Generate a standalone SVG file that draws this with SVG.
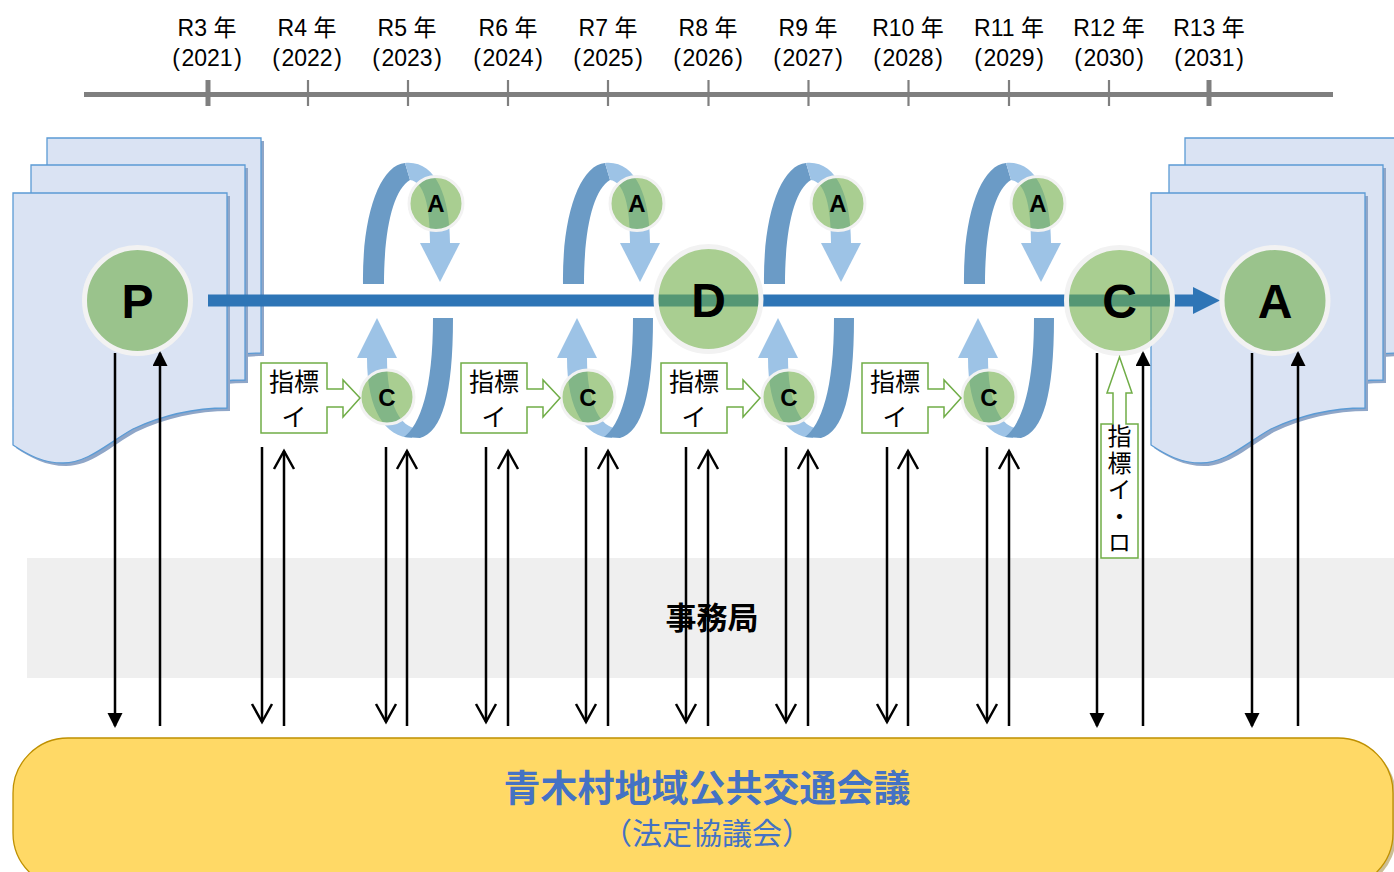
<svg xmlns="http://www.w3.org/2000/svg" xmlns:xlink="http://www.w3.org/1999/xlink" width="1394" height="872" viewBox="0 0 1394 872">
<style>
.jp{font-family:"Noto Sans CJK JP","Liberation Sans",sans-serif;}
.yr{font-family:"Liberation Sans","Noto Sans CJK JP",sans-serif;font-size:23px;fill:#000;text-anchor:middle;}
.tl{stroke:#7f7f7f;fill:none;}
.page{fill:#dae3f3;stroke:#5b9bd5;stroke-width:1.3;}
.pshadow{fill:#8fa6c8;}
.cir{fill:#70ad47;fill-opacity:0.6;stroke:#f2f2f2;}
.big{stroke-width:5;}
.sm{stroke-width:3;}
.lt{font-family:"Liberation Sans",Arial,sans-serif;font-weight:bold;fill:#000;text-anchor:middle;}
.dark{fill:#6b9bc6;}
.light{fill:#9dc3e6;}
.call{fill:#fff;stroke:#70ad47;stroke-width:1.5;}
.ct{font-size:25px;fill:#000;text-anchor:middle;}
.ar{stroke:#000;stroke-width:2.5;fill:none;}
</style>
<defs>
<path id="pagePath" d="M0,0 H214 V215 C180,215 150,222 120,236 C95,250 75,270 50,270 C30,270 15,262 0,252 Z"/>
<g id="pg">
<use xlink:href="#pagePath" href="#pagePath" class="pshadow" transform="translate(3,3)"/>
<use xlink:href="#pagePath" href="#pagePath" class="page"/>
</g>
<g id="stack">
<use xlink:href="#pg" href="#pg" x="34" y="-55"/>
<use xlink:href="#pg" href="#pg" x="18" y="-28"/>
<use xlink:href="#pg" href="#pg" x="0" y="0"/>
</g>
<g id="bands">
<path class="dark" d="M363,284 C362,215 380,165 405,163 L410,180 C393,190 384,230 384,284 Z"/>
<path class="light" d="M405,163 C435,160 450,195 450,243 L430,243 C430,205 424,182 410,180 Z"/>
<polygon class="light" points="420,243 460,243 440,282"/>
<path class="light" d="M367,358 L387,358 C387,400 398,424 414,428 L412,438 C385,437 367,410 367,358 Z"/>
<polygon class="light" points="357,358 397,358 377,318"/>
<path class="dark" d="M433,318 L453,318 C453,395 442,432 420,438 L404,437 C420,425 433,390 433,318 Z"/>
</g>
<path id="callout" d="M261,363 H327 V389 H343 V380 L360,398 L343,417 V407 H327 V433 H261 Z"/>
<marker id="mf" markerUnits="userSpaceOnUse" markerWidth="16" markerHeight="16" refX="13" refY="7.5" orient="auto" viewBox="0 0 16 16">
<path d="M0,0 L15,7.5 L0,15 Z" fill="#000"/>
</marker>
<marker id="mo" markerUnits="userSpaceOnUse" markerWidth="24" markerHeight="24" refX="18" refY="10" orient="auto" viewBox="-2 -2 24 24">
<path d="M0,0 L18,10 L0,20" fill="none" stroke="#000" stroke-width="2.5"/>
</marker>
</defs>

<rect width="1394" height="872" fill="#fff"/>

<g id="timeline">
<line class="tl" x1="84" y1="94.5" x2="1333" y2="94.5" stroke-width="5"/>
<line class="tl" x1="208" y1="80" x2="208" y2="106" stroke-width="5"/>
<line class="tl" x1="1209" y1="80" x2="1209" y2="106" stroke-width="5"/>
<g stroke-width="2.2" class="tl">
<line x1="308" y1="80" x2="308" y2="106"/>
<line x1="408" y1="80" x2="408" y2="106"/>
<line x1="508" y1="80" x2="508" y2="106"/>
<line x1="608" y1="80" x2="608" y2="106"/>
<line x1="708.5" y1="80" x2="708.5" y2="106"/>
<line x1="808.5" y1="80" x2="808.5" y2="106"/>
<line x1="908.5" y1="80" x2="908.5" y2="106"/>
<line x1="1009" y1="80" x2="1009" y2="106"/>
<line x1="1109" y1="80" x2="1109" y2="106"/>
</g>
<g class="yr">
<text x="207" y="36">R3 年</text><text y="66"><tspan x="176">(</tspan><tspan x="207">2021</tspan><tspan x="238">)</tspan></text>
<text x="307" y="36">R4 年</text><text y="66"><tspan x="276">(</tspan><tspan x="307">2022</tspan><tspan x="338">)</tspan></text>
<text x="407" y="36">R5 年</text><text y="66"><tspan x="376">(</tspan><tspan x="407">2023</tspan><tspan x="438">)</tspan></text>
<text x="508" y="36">R6 年</text><text y="66"><tspan x="477">(</tspan><tspan x="508">2024</tspan><tspan x="539">)</tspan></text>
<text x="608" y="36">R7 年</text><text y="66"><tspan x="577">(</tspan><tspan x="608">2025</tspan><tspan x="639">)</tspan></text>
<text x="708" y="36">R8 年</text><text y="66"><tspan x="677">(</tspan><tspan x="708">2026</tspan><tspan x="739">)</tspan></text>
<text x="808" y="36">R9 年</text><text y="66"><tspan x="777">(</tspan><tspan x="808">2027</tspan><tspan x="839">)</tspan></text>
<text x="908" y="36">R10 年</text><text y="66"><tspan x="877">(</tspan><tspan x="908">2028</tspan><tspan x="939">)</tspan></text>
<text x="1009" y="36">R11 年</text><text y="66"><tspan x="978">(</tspan><tspan x="1009">2029</tspan><tspan x="1040">)</tspan></text>
<text x="1109" y="36">R12 年</text><text y="66"><tspan x="1078">(</tspan><tspan x="1109">2030</tspan><tspan x="1140">)</tspan></text>
<text x="1209" y="36">R13 年</text><text y="66"><tspan x="1178">(</tspan><tspan x="1209">2031</tspan><tspan x="1240">)</tspan></text>
</g>
</g>

<g id="office-band">
<rect x="27" y="558" width="1367" height="120" fill="#efefef"/>
<text class="jp" x="712" y="629" font-size="31" font-weight="bold" text-anchor="middle" fill="#000">事務局</text>
</g>

<g id="council">
<rect x="16" y="741" width="1380" height="150" rx="55" fill="#bfae78" opacity="0.8"/>
<rect x="13" y="738" width="1380" height="150" rx="55" fill="#ffd966" stroke="#bf9000" stroke-width="1.3"/>
<text class="jp" x="707" y="802" font-size="37" font-weight="bold" text-anchor="middle" fill="#4472c4">青木村地域公共交通会議</text>
<text class="jp" x="707" y="844" font-size="30" text-anchor="middle" fill="#4472c4">（法定協議会）</text>
</g>

<g id="plan-docs"><use xlink:href="#stack" href="#stack" x="13" y="193"/></g>
<g id="act-docs"><use xlink:href="#stack" href="#stack" x="1151" y="193"/></g>

<g id="cycles">
<use xlink:href="#bands" href="#bands"/>
<use xlink:href="#bands" href="#bands" x="200"/>
<use xlink:href="#bands" href="#bands" x="401"/>
<use xlink:href="#bands" href="#bands" x="601"/>
</g>

<g id="connectors">
<line x1="208" y1="300.5" x2="1196" y2="300.5" stroke="#2e75b6" stroke-width="12"/>
<polygon points="1193,287 1220,300.5 1193,314" fill="#2e75b6"/>
<g class="ar">
<line x1="115" y1="353" x2="115" y2="726" marker-end="url(#mf)"/>
<line x1="160" y1="726" x2="160" y2="353" marker-end="url(#mf)"/>
<line x1="1097" y1="353" x2="1097" y2="726" marker-end="url(#mf)"/>
<line x1="1143" y1="726" x2="1143" y2="353" marker-end="url(#mf)"/>
<line x1="1252" y1="353" x2="1252" y2="726" marker-end="url(#mf)"/>
<line x1="1298" y1="726" x2="1298" y2="353" marker-end="url(#mf)"/>
<line x1="262" y1="447" x2="262" y2="722" marker-end="url(#mo)"/>
<line x1="284" y1="726" x2="284" y2="451" marker-end="url(#mo)"/>
<line x1="386" y1="447" x2="386" y2="722" marker-end="url(#mo)"/>
<line x1="407" y1="726" x2="407" y2="451" marker-end="url(#mo)"/>
<line x1="486" y1="447" x2="486" y2="722" marker-end="url(#mo)"/>
<line x1="508" y1="726" x2="508" y2="451" marker-end="url(#mo)"/>
<line x1="586" y1="447" x2="586" y2="722" marker-end="url(#mo)"/>
<line x1="608" y1="726" x2="608" y2="451" marker-end="url(#mo)"/>
<line x1="686" y1="447" x2="686" y2="722" marker-end="url(#mo)"/>
<line x1="708" y1="726" x2="708" y2="451" marker-end="url(#mo)"/>
<line x1="786" y1="447" x2="786" y2="722" marker-end="url(#mo)"/>
<line x1="808" y1="726" x2="808" y2="451" marker-end="url(#mo)"/>
<line x1="887" y1="447" x2="887" y2="722" marker-end="url(#mo)"/>
<line x1="908" y1="726" x2="908" y2="451" marker-end="url(#mo)"/>
<line x1="987" y1="447" x2="987" y2="722" marker-end="url(#mo)"/>
<line x1="1009" y1="726" x2="1009" y2="451" marker-end="url(#mo)"/>
</g>
</g>

<g id="node-P"><circle class="cir big" cx="137.5" cy="300.5" r="53"/><text class="lt" x="137.5" y="318" font-size="48">P</text></g>
<g id="node-D"><circle class="cir big" cx="708.5" cy="299" r="52.5"/><text class="lt" x="708.5" y="316.5" font-size="48">D</text></g>
<g id="node-C"><circle class="cir big" cx="1119.5" cy="300.5" r="53"/><text class="lt" x="1119.5" y="318" font-size="48">C</text></g>
<g id="node-A"><circle class="cir big" cx="1275" cy="300.5" r="53"/><text class="lt" x="1275" y="318" font-size="48">A</text></g>

<g id="node-a1"><circle class="cir sm" cx="436" cy="203.5" r="27"/><text class="lt" x="436" y="212" font-size="24">A</text></g>
<g id="node-a2"><circle class="cir sm" cx="637" cy="203.5" r="27"/><text class="lt" x="637" y="212" font-size="24">A</text></g>
<g id="node-a3"><circle class="cir sm" cx="838" cy="203.5" r="27"/><text class="lt" x="838" y="212" font-size="24">A</text></g>
<g id="node-a4"><circle class="cir sm" cx="1038" cy="203.5" r="27"/><text class="lt" x="1038" y="212" font-size="24">A</text></g>

<g id="node-c1"><circle class="cir sm" cx="387" cy="397" r="27"/><text class="lt" x="387" y="405.5" font-size="24">C</text></g>
<g id="node-c2"><circle class="cir sm" cx="588" cy="397" r="27"/><text class="lt" x="588" y="405.5" font-size="24">C</text></g>
<g id="node-c3"><circle class="cir sm" cx="789" cy="397" r="27"/><text class="lt" x="789" y="405.5" font-size="24">C</text></g>
<g id="node-c4"><circle class="cir sm" cx="989" cy="397" r="27"/><text class="lt" x="989" y="405.5" font-size="24">C</text></g>

<g id="index1"><use xlink:href="#callout" href="#callout" class="call"/><text class="jp ct" x="294" y="391">指標</text><text class="jp ct" x="294" y="426">イ</text></g>
<g id="index2"><use xlink:href="#callout" href="#callout" class="call" x="200"/><text class="jp ct" x="494" y="391">指標</text><text class="jp ct" x="494" y="426">イ</text></g>
<g id="index3"><use xlink:href="#callout" href="#callout" class="call" x="400"/><text class="jp ct" x="694" y="391">指標</text><text class="jp ct" x="694" y="426">イ</text></g>
<g id="index4"><use xlink:href="#callout" href="#callout" class="call" x="601"/><text class="jp ct" x="895" y="391">指標</text><text class="jp ct" x="895" y="426">イ</text></g>

<g id="index5">
<path class="call" d="M1101,424 H1113 V393 H1107 L1119.5,357 L1132,393 H1126 V424 H1138 V558 H1101 Z"/>
<text class="jp" x="1119.5" y="424" font-size="24" writing-mode="vertical-rl" letter-spacing="2.5" fill="#000">指標イ・ロ</text>
</g>
</svg>
